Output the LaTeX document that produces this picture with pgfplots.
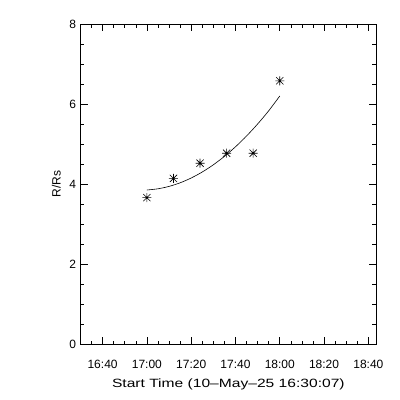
\documentclass[border=0pt]{standalone}
\usepackage{pgfplots}
\pgfplotsset{compat=1.18}
\usepackage{fontspec}
\setmainfont{Liberation Sans}
\pgfdeclareplotmark{ast8}{%
  \pgfpathmoveto{\pgfqpoint{-\pgfplotmarksize}{0pt}}\pgfpathlineto{\pgfqpoint{\pgfplotmarksize}{0pt}}%
  \pgfpathmoveto{\pgfqpoint{0pt}{-\pgfplotmarksize}}\pgfpathlineto{\pgfqpoint{0pt}{\pgfplotmarksize}}%
  \pgfpathmoveto{\pgfqpoint{-0.8\pgfplotmarksize}{-0.8\pgfplotmarksize}}\pgfpathlineto{\pgfqpoint{0.8\pgfplotmarksize}{0.8\pgfplotmarksize}}%
  \pgfpathmoveto{\pgfqpoint{-0.8\pgfplotmarksize}{0.8\pgfplotmarksize}}\pgfpathlineto{\pgfqpoint{0.8\pgfplotmarksize}{-0.8\pgfplotmarksize}}%
  \pgfusepathqstroke}
\begin{document}
\begin{tikzpicture}
\useasboundingbox (-80.7pt,-56pt) rectangle (319.3pt,344pt);
\begin{axis}[
  at={(0,0)}, anchor=south west,
  scale only axis, width=295.3pt, height=320pt,
  xmin=30.117, xmax=163.45, ymin=0, ymax=8,
  xtick={40,60,80,100,120,140,160},
  xticklabels={16:40,17:00,17:20,17:40,18:00,18:20,18:40},
  minor xtick={35,40,...,160},
  ytick={0,2,4,6,8},
  minor ytick={0,0.5,...,8},
  tick align=inside, major tick length=7pt, minor tick length=3.5pt,
  tick style={black, line width=0.6pt},
  axis line style={line width=0.8pt},
  /pgf/number format/assume math mode=true,
  ticklabel style={font=\fontsize{12}{14}\selectfont},
  xticklabel style={yshift=-13pt},
  yticklabel style={xshift=-1pt},
  label style={font=\fontsize{12}{14}\selectfont},
  xlabel={\scalebox{1.3}[1]{Start Time (10--May--25 16:30:07)}},
  ylabel={R/Rs},
  xlabel style={yshift=-3pt},
  ylabel style={yshift=2pt},
]
\addplot[black, line width=0.6pt, smooth] coordinates {
  (60,3.85) (65,3.88) (70,3.94) (75,4.03) (80,4.15) (85,4.30) (90,4.48)
  (95,4.69) (100,4.93) (105,5.20) (110,5.50) (115,5.83) (120,6.20)
};
\addplot[black, only marks, mark=ast8, mark size=4.5pt, line width=0.6pt] coordinates {
  (60,3.66) (72,4.14) (84,4.52) (96,4.77) (108,4.77) (120,6.58)
};
\end{axis}
\end{tikzpicture}
\end{document}
